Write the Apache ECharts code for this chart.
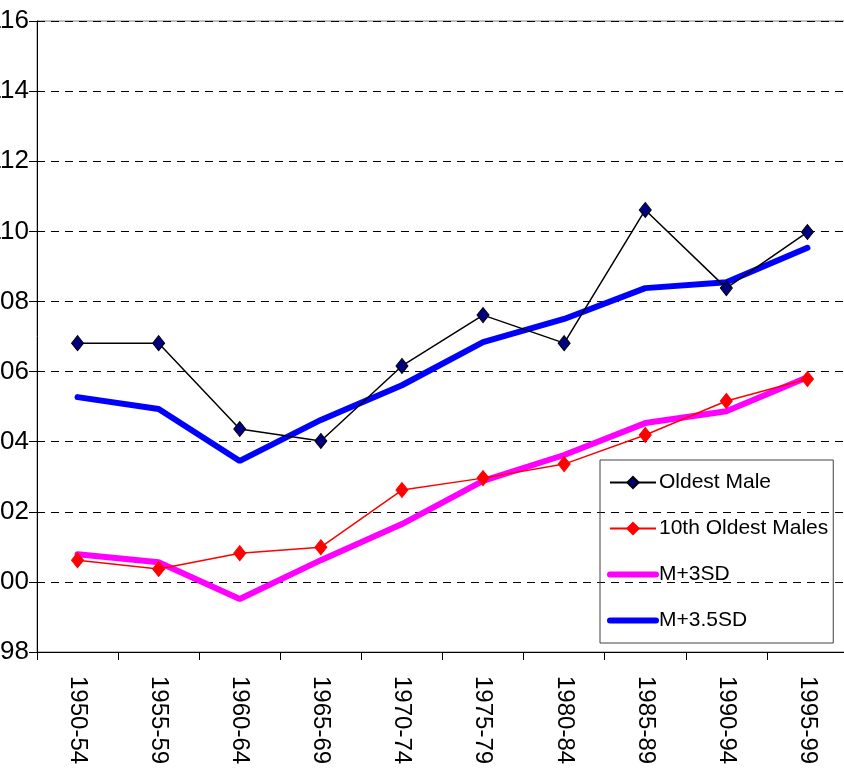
<!DOCTYPE html>
<html>
<head>
<meta charset="utf-8">
<script src="https://cdn.jsdelivr.net/npm/echarts@6/dist/echarts.min.js"></script>
<style>
  html, body { margin: 0; padding: 0; background: #fff; }
  #chart { width: 844px; height: 774px; }
</style>
</head>
<body>
<div id="chart"></div>
<script>
const periods = ["1950-54", "1955-59", "1960-64", "1965-69", "1970-74",
  "1975-79", "1980-84", "1985-89", "1990-94", "1995-99"];
const oldestMale = [106.81, 106.81, 104.36, 104.02, 106.16, 107.61, 106.81, 110.61, 108.38, 109.98];
const tenthOldest = [100.62, 100.37, 100.82, 100.99, 102.62, 102.96, 103.36, 104.19, 105.16, 105.79];
const m3sd = [100.79, 100.56, 99.51, 100.62, 101.65, 102.88, 103.62, 104.53, 104.87, 105.84];
const m35sd = [105.27, 104.93, 103.45, 104.62, 105.61, 106.84, 107.5, 108.38, 108.55, 109.53];

const font = "Liberation Sans, Arial, sans-serif";
const chart = echarts.init(document.getElementById("chart"));

chart.setOption({
  animation: false,
  grid: {
    left: 37,
    top: 21,
    width: 811,
    height: 631,
    outerBoundsMode: "none",
    containLabel: false,
    show: true,
    borderColor: "#808080",
    borderWidth: 1,
  },
  legend: {
    orient: "vertical",
    left: 600,
    top: 460,
    padding: [12, 5, 12, 7],
    itemGap: 25,
    itemWidth: 46,
    itemHeight: 14,
    borderColor: "#404040",
    borderWidth: 1,
    textStyle: { fontFamily: font, fontSize: 21, color: "#000", padding: [0, 0, 0, -2] },
    data: [
      { name: "Oldest Male" },
      { name: "10th Oldest Males" },
      { name: "M+3SD", itemStyle: { opacity: 0 }, lineStyle: { width: 6 } },
      { name: "M+3.5SD", itemStyle: { opacity: 0 }, lineStyle: { width: 6 } },
    ],
  },
  xAxis: {
    type: "category",
    data: periods,
    boundaryGap: true,
    axisLine: { lineStyle: { color: "#000", width: 1 } },
    axisTick: { show: true, length: 8, lineStyle: { color: "#000" } },
    axisLabel: {
      rotate: -90,
      margin: 24,
      fontFamily: font,
      fontSize: 24,
      color: "#000",
    },
    splitLine: { show: false },
  },
  yAxis: {
    type: "value",
    min: 98,
    max: 116,
    interval: 2,
    axisLine: { show: true, lineStyle: { color: "#000", width: 1 } },
    axisTick: { show: true, length: 8, lineStyle: { color: "#000" } },
    axisLabel: { margin: 8, fontFamily: font, fontSize: 26, color: "#000" },
    splitLine: { show: true, lineStyle: { color: "#000", type: [8, 6], width: 1 } },
  },
  series: [
    {
      name: "Oldest Male",
      type: "line",
      data: oldestMale,
      symbol: "diamond",
      symbolSize: [12, 15],
      z: 3,
      lineStyle: { color: "#000", width: 1.5 },
      itemStyle: { color: "#000080", borderColor: "#000", borderWidth: 1 },
    },
    {
      name: "10th Oldest Males",
      type: "line",
      data: tenthOldest,
      symbol: "diamond",
      symbolSize: [12, 15],
      z: 3,
      lineStyle: { color: "#ff0000", width: 1.5 },
      itemStyle: { color: "#ff0000", borderColor: "#ff0000", borderWidth: 1 },
    },
    {
      name: "M+3SD",
      type: "line",
      data: m3sd,
      symbol: "none",
      z: 2,
      lineStyle: { color: "#ff00ff", width: 6, cap: "round" },
      itemStyle: { color: "#ff00ff" },
    },
    {
      name: "M+3.5SD",
      type: "line",
      data: m35sd,
      symbol: "none",
      z: 2,
      lineStyle: { color: "#0000ff", width: 6, cap: "round" },
      itemStyle: { color: "#0000ff" },
    },
  ],
});
</script>
</body>
</html>
